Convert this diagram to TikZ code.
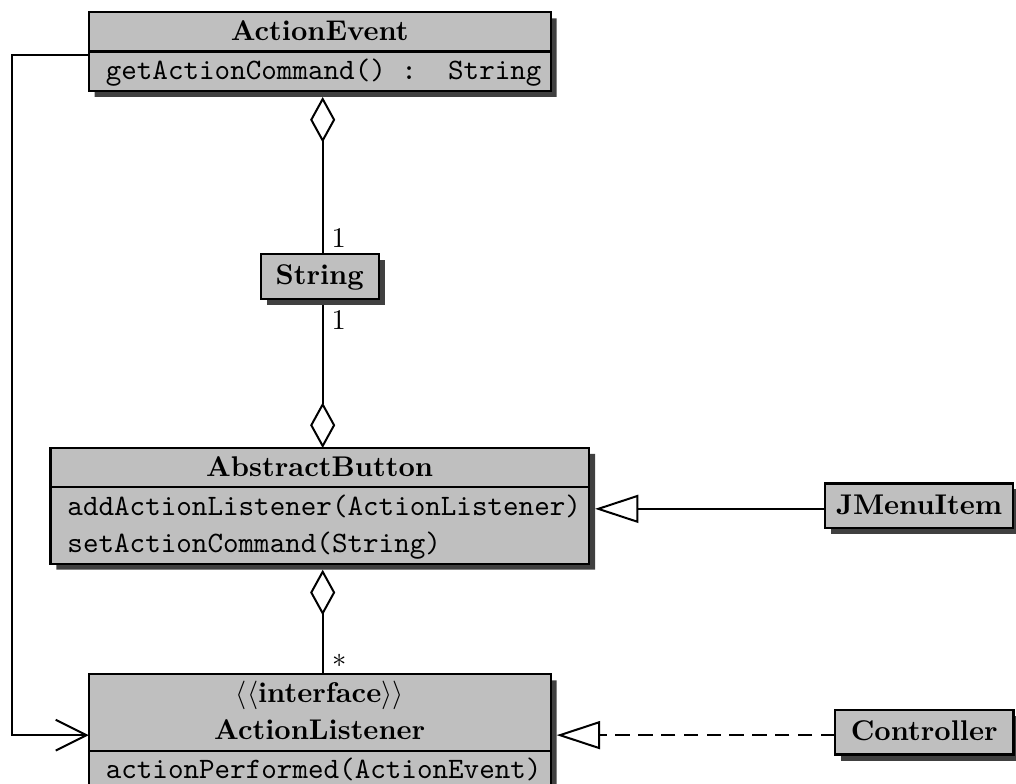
\documentclass[tikz,border=0pt]{standalone}
\usetikzlibrary{arrows.meta,shapes.multipart,shadows}

% one text row of a class compartment: 13pt high, baseline 3.5pt above the bottom
\newcommand\umlstrut{\rule[-3.5pt]{0pt}{13pt}}
% several rows stacked at 13pt
\newcommand\umlstack[1]{\vbox{\baselineskip=13pt\lineskiplimit=0pt\lineskip=0pt #1}}
% centred bold class name, left aligned operation
\newcommand\umlhead[2]{\hbox{\makebox[#1]{\umlstrut\bfseries #2}}}
\newcommand\umlop[2]{\hbox{\makebox[#1][l]{\umlstrut\ttfamily\fontsize{10.4}{13}\selectfont #2}}}

\begin{document}
\begin{tikzpicture}[x=0.35088pt, y=-0.35088pt,
  umlshadow/.style={drop shadow={shadow xshift=2.1pt, shadow yshift=-2.1pt, fill=black!75, opacity=1}},
  umlclass/.style={rectangle split, rectangle split parts=2, draw, line width=0.8pt,
    fill=black!25, inner xsep=6pt, inner ysep=0pt, outer sep=0pt, anchor=north, umlshadow},
  umlbox/.style={draw, line width=0.8pt, fill=black!25, inner sep=0pt, outer sep=0pt,
    minimum height=15.7pt, font=\bfseries, umlshadow},
  link/.style={line width=0.7pt},
  aggregation/.style={link, -{Diamond[fill=white, length=16pt, width=8.8pt]}},
  generalization/.style={link, -{Triangle[fill=white, length=15.2pt, width=9.8pt]}},
  realization/.style={generalization, dash pattern=on 5pt off 3pt},
  navigable/.style={link, -{Straight Barb[length=10.8pt, width=10.8pt]}},
  mult/.style={inner sep=0pt, anchor=base west},
]
\useasboundingbox (0,0) rectangle (1016,784);

% classes
\node[umlclass] (ae) at (319.7,12.3)
  {\umlhead{150.1pt}{ActionEvent}\nodepart{two}\umlop{150.1pt}{getActionCommand()~:~~String}};
\node[umlbox, minimum width=41.4pt] (str) at (319.7,276.3) {\umlstrut String};
\node[umlclass] (ab) at (319.7,448)
  {\umlhead{177pt}{AbstractButton}\nodepart{two}\umlstack{\umlop{177pt}{addActionListener(ActionListener)}\umlop{177pt}{setActionCommand(String)}}};
\node[umlclass] (al) at (319.7,674.3)
  {\umlstack{\hbox{\makebox[150.1pt]{\umlstrut$\langle\langle$\textbf{interface}$\rangle\rangle$}}\umlhead{150.1pt}{ActionListener}}\nodepart{two}\umlop{150.1pt}{actionPerformed(ActionEvent)}};

% subclasses on the right, level with the class they extend
\coordinate (jmcol) at (919.15,0);
\coordinate (ctlcol) at (924.15,0);
\node[umlbox, minimum width=66.1pt] (jm) at (ab.center -| jmcol) {\umlstrut JMenuItem};
\node[umlbox, minimum width=62.6pt] (ctl) at (al.center -| ctlcol) {\umlstrut Controller};

% relations (ends meet the shadowed outline)
\coordinate (rail) at (12.3,400);
\draw[navigable] ([yshift=-1.05pt]ae.west) -| (rail) |- ([yshift=-1.05pt]al.west);
\draw[aggregation] ([xshift=1.05pt]str.north) -- ([xshift=1.05pt,yshift=-2.1pt]ae.south);
\draw[aggregation] ([xshift=1.05pt,yshift=-2.1pt]str.south) -- ([xshift=1.05pt]ab.north);
\draw[aggregation] ([xshift=1.05pt]al.north) -- ([xshift=1.05pt,yshift=-2.1pt]ab.south);
\draw[generalization] ([yshift=-1.05pt]jm.west) -- ([xshift=2.1pt,yshift=-1.05pt]ab.east);
\draw[realization] ([yshift=-1.05pt]ctl.west) -- ([xshift=2.1pt,yshift=-1.05pt]al.east);

% multiplicities
\node[mult] (m1) at (331,247) {1};
\node[mult] (m2) at (331,329) {1};
\node[mult] (m3) at (331.5,667.5) {$*$};
\end{tikzpicture}
\end{document}
